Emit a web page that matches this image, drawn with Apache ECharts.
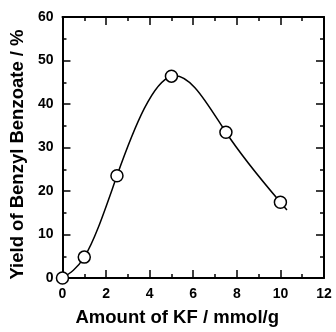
<!DOCTYPE html>
<html>
<head>
<meta charset="utf-8">
<script src="https://cdn.jsdelivr.net/npm/echarts@6/dist/echarts.min.js"></script>
<style>
  html, body { margin: 0; padding: 0; background: #fff; }
  #chart { width: 336px; height: 332px; }
</style>
</head>
<body>
<div id="chart"></div>
<script>
var kfAmount = [0, 1, 2.5, 5, 7.5, 10];
var yieldValues = [0, 4.8, 23.5, 46.4, 33.5, 17.4];
var xTicks = [0, 2, 4, 6, 8, 10, 12];
var yTicks = [0, 10, 20, 30, 40, 50, 60];

// slopes of a natural cubic spline through the points (used to draw the fitted curve)
function splineSlopes(xs, ys) {
    var n = xs.length, h = [], M = [], i;
    for (i = 0; i < n - 1; i++) h.push(xs[i + 1] - xs[i]);
    // tridiagonal solve, M[0] = M[n-1] = 0
    var a = [], b = [], c = [], d = [];
    for (i = 1; i < n - 1; i++) {
        a.push(h[i - 1]);
        b.push(2 * (h[i - 1] + h[i]));
        c.push(h[i]);
        d.push(6 * ((ys[i + 1] - ys[i]) / h[i] - (ys[i] - ys[i - 1]) / h[i - 1]));
    }
    var m = b.length;
    for (i = 1; i < m; i++) {
        var w = a[i] / b[i - 1];
        b[i] -= w * c[i - 1];
        d[i] -= w * d[i - 1];
    }
    var inner = new Array(m);
    for (i = m - 1; i >= 0; i--) {
        inner[i] = (d[i] - (i < m - 1 ? c[i] * inner[i + 1] : 0)) / b[i];
    }
    M = [0].concat(inner, [0]);
    var s = [];
    for (i = 0; i < n - 1; i++) {
        s.push((ys[i + 1] - ys[i]) / h[i] - h[i] * (2 * M[i] + M[i + 1]) / 6);
    }
    var k = n - 2;
    s.push((ys[k + 1] - ys[k]) / h[k] + h[k] * (M[k] + 2 * M[k + 1]) / 6);
    return s;
}

window.addEventListener('load', function() {
    var myChart = echarts.init(document.getElementById('chart'));
    var font = 'Liberation Sans, Arial, Helvetica, sans-serif';
    var axisLine = { show: true, onZero: false, lineStyle: { color: '#000', width: 2 } };
    var tick = { show: true, inside: true, length: 8, lineStyle: { color: '#000', width: 1.5 } };
    var minor = { show: true, splitNumber: 2, length: 4, lineStyle: { color: '#000', width: 1.5 } };
    var slopes = splineSlopes(kfAmount, yieldValues);
    var tail = 0.3; // curve runs a little past the last point

    var points = kfAmount.map(function(x, i) { return [x, yieldValues[i]]; });
    var segments = kfAmount.map(function(x, i) { return [i, x, yieldValues[i]]; });

    var option = {
        animation: false,
        grid: { left: 62, right: 12, top: 17, bottom: 49 },
        xAxis: [{
            type: 'value',
            min: xTicks[0],
            max: xTicks[xTicks.length - 1],
            interval: xTicks[1] - xTicks[0],
            name: 'Amount of KF / mmol/g',
            nameLocation: 'middle',
            nameGap: 30,
            nameTextStyle: { fontFamily: font, fontWeight: 'bold', fontSize: 18.5, color: '#000', padding: [0, 32, 0, 0] },
            axisLine: axisLine,
            axisTick: tick,
            minorTick: minor,
            splitLine: { show: false },
            axisLabel: { fontFamily: font, fontWeight: 'bold', fontSize: 14, color: '#000', margin: 9 }
        }, {
            type: 'value',
            position: 'top',
            min: xTicks[0],
            max: xTicks[xTicks.length - 1],
            interval: xTicks[1] - xTicks[0],
            axisLine: axisLine,
            axisTick: tick,
            minorTick: minor,
            splitLine: { show: false },
            axisLabel: { show: false }
        }],
        yAxis: [{
            type: 'value',
            min: yTicks[0],
            max: yTicks[yTicks.length - 1],
            interval: yTicks[1] - yTicks[0],
            name: 'Yield of Benzyl Benzoate / %',
            nameLocation: 'middle',
            nameGap: 35,
            nameTextStyle: { fontFamily: font, fontWeight: 'bold', fontSize: 18.5, color: '#000', padding: [0, 14, 0, 0] },
            axisLine: axisLine,
            axisTick: tick,
            minorTick: minor,
            splitLine: { show: false },
            axisLabel: { fontFamily: font, fontWeight: 'bold', fontSize: 14, color: '#000', margin: 9 }
        }, {
            type: 'value',
            position: 'right',
            min: yTicks[0],
            max: yTicks[yTicks.length - 1],
            interval: yTicks[1] - yTicks[0],
            axisLine: axisLine,
            axisTick: tick,
            minorTick: minor,
            splitLine: { show: false },
            axisLabel: { show: false }
        }],
        series: [{
            name: 'Fit',
            type: 'custom',
            data: segments,
            encode: { x: 1, y: 2 },
            silent: true,
            z: 3,
            renderItem: function(params, api) {
                var i = params.dataIndex;
                var n = kfAmount.length;
                var x0 = kfAmount[i], y0 = yieldValues[i];
                var x1, y1, m1;
                if (i < n - 1) {
                    x1 = kfAmount[i + 1]; y1 = yieldValues[i + 1]; m1 = slopes[i + 1];
                } else {
                    x1 = x0 + tail; y1 = y0 + slopes[i] * tail; m1 = slopes[i];
                }
                var h = x1 - x0;
                var p0 = api.coord([x0, y0]);
                var c1 = api.coord([x0 + h / 3, y0 + slopes[i] * h / 3]);
                var c2 = api.coord([x1 - h / 3, y1 - m1 * h / 3]);
                var p1 = api.coord([x1, y1]);
                return {
                    type: 'bezierCurve',
                    shape: { x1: p0[0], y1: p0[1], cpx1: c1[0], cpy1: c1[1], cpx2: c2[0], cpy2: c2[1], x2: p1[0], y2: p1[1] },
                    style: { stroke: '#000', lineWidth: 1.5, fill: null }
                };
            }
        }, {
            name: 'Yield',
            type: 'scatter',
            data: points,
            symbol: 'circle',
            symbolSize: 12,
            itemStyle: { color: '#fff', borderColor: '#000', borderWidth: 1.5, opacity: 1 },
            z: 5
        }]
    };

    myChart.setOption(option);
});
</script>
</body>
</html>
